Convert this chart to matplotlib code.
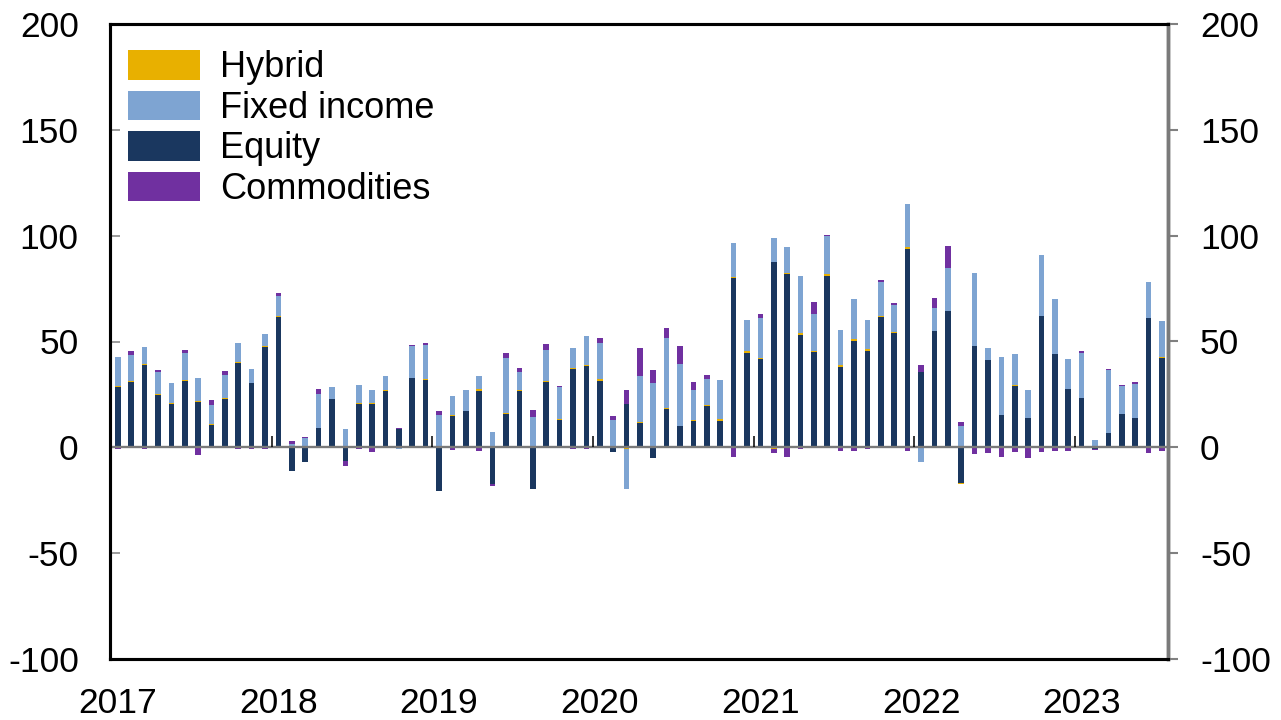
import numpy as np
import pandas as pd
import matplotlib
matplotlib.use("Agg")
import matplotlib.pyplot as plt

plt.rcParams["font.family"] = ["Liberation Sans", "DejaVu Sans"]

# Monthly net flows, Jan 2017 - Jul 2023
months = pd.date_range("2017-01-01", "2023-07-01", freq="MS")

equity = [
    28.5, 30.8, 39.0, 24.8, 20.5, 31.4, 21.5, 10.6, 22.9, 39.9, 30.3, 47.5,
    61.7, -11.2, -6.9, 9.0, 22.6, -6.5, 20.7, 20.5, 26.7, 8.5, 32.6, 31.9,
    -20.7, 14.8, 17.0, 26.8, -17.2, 15.8, 26.5, -19.7, 30.9, 12.9, 37.1, 38.6,
    31.2, -2.0, 20.3, 11.5, -5.2, 18.1, 9.9, 12.3, 19.6, 12.5, 79.8, 44.8,
    41.8, 87.4, 81.7, 53.0, 45.1, 80.8, 38.0, 50.3, 45.6, 61.7, 54.1, 93.7,
    35.6, 55.0, 64.5, -17.0, 47.9, 41.3, 15.3, 29.0, 13.7, 62.0, 44.3, 27.4,
    23.2, -0.6, 6.8, 15.6, 13.7, 60.9, 42.3,
]
hybrid = [
    0.4, 0.4, 0.2, 0.4, 0.3, 0.4, 0.4, 0.3, 0.2, 0.6, 0.2, 0.3,
    0.3, 0.0, 0.0, 0.3, 0.3, 0.0, 0.4, 0.4, 0.2, 0.0, 0.2, 0.4,
    0.0, 0.3, 0.3, 0.8, 0.0, 0.3, 0.6, 0.8, 0.6, 0.6, 0.3, 0.3,
    1.2, 0.5, -0.8, 0.3, 0.0, 0.3, 0.3, 0.5, 0.3, 0.8, 0.8, 0.6,
    0.2, -0.9, 0.6, 0.9, 0.6, 0.9, 0.9, 1.1, 0.8, 0.3, 0.3, 0.8,
    0.0, -0.4, -0.4, -0.5, 0.0, -0.5, 0.0, 0.5, -0.5, 0.0, -0.4, 0.0,
    0.3, 0.0, 0.0, 0.3, 0.0, 0.3, 0.6,
]
fixed_income = [
    13.8, 12.2, 8.4, 10.3, 9.8, 12.7, 10.9, 9.1, 11.3, 9.0, 6.6, 5.7,
    9.5, 1.7, 4.6, 16.1, 5.8, 8.8, 8.4, 6.4, 6.7, -0.9, 15.1, 16.1,
    15.3, 9.2, 9.7, 6.2, 7.1, 25.9, 8.7, 13.4, 14.4, 15.0, 9.3, 13.9,
    17.0, 12.6, -18.9, 22.1, 30.3, 33.2, 29.4, 14.3, 12.3, 18.7, 15.9, 14.7,
    19.2, 11.3, 12.2, 27.0, 17.2, 18.3, 16.5, 18.6, 13.7, 16.2, 13.0, 20.6,
    -6.8, 10.9, 20.2, 10.3, 34.3, 5.5, 27.2, 14.5, 13.4, 28.9, 25.6, 14.2,
    21.3, 3.5, 29.8, 13.1, 16.3, 16.9, 16.7,
]
commodities = [
    -0.6, 1.9, -0.6, 0.8, -0.4, 1.4, -3.5, 2.2, 1.6, -0.9, -0.6, -0.6,
    1.5, 1.1, 0.4, 2.2, 0.0, -2.5, -0.6, -2.2, 0.0, 0.5, 0.3, 1.1,
    1.9, -1.4, 0.0, -1.7, -1.3, 2.8, 1.9, 3.6, 3.1, 0.3, -0.9, -0.6,
    2.3, 1.9, 7.0, 12.8, 6.3, 4.6, 8.5, 3.7, 1.9, -0.5, -4.4, -0.4,
    1.7, -1.9, -4.4, -0.9, 5.7, 0.5, -1.7, -1.6, -0.9, 1.0, 0.9, -1.9,
    3.5, 4.6, 10.6, 1.8, -3.0, -2.0, -4.4, -2.4, -4.5, -2.4, -1.2, -1.9,
    0.9, -0.5, 0.3, 0.3, 1.1, -2.5, -1.9,
]

series_names = ["Equity", "Hybrid", "Fixed income", "Commodities"]
series_values = [equity, hybrid, fixed_income, commodities]
series_colors = ["#1A375F", "#E8B000", "#7EA4D2", "#7030A0"]
legend_order = ["Hybrid", "Fixed income", "Equity", "Commodities"]

year_labels = ["2017", "2018", "2019", "2020", "2021", "2022", "2023"]
y_ticks = [-100, -50, 0, 50, 100, 150, 200]

x = np.arange(len(months))
year_pos = x[months.month == 1]

fig = plt.figure(figsize=(12.81, 7.2), dpi=100)
ax = fig.add_axes([110 / 1281, 61 / 720, (1168 - 110) / 1281, (659 - 24) / 720])

# Stack positives upward and negatives downward, in the same series order
pos_base = np.zeros(len(x))
neg_base = np.zeros(len(x))
handles = {}
for name, vals, col in zip(series_names, series_values, series_colors):
    v = np.asarray(vals, dtype=float)
    p = np.clip(v, 0, None)
    n = np.clip(v, None, 0)
    bc = ax.bar(x, p, bottom=pos_base, width=0.42, color=col, linewidth=0, zorder=2)
    ax.bar(x, n, bottom=neg_base, width=0.42, color=col, linewidth=0, zorder=2)
    pos_base += p
    neg_base += n
    handles[name] = bc

ax.axhline(0, color="#7a7a7a", lw=1.7, zorder=3)
# small year separators on the zero line
ax.vlines(year_pos[1:] - 0.5, 0, 5.5, color="black", lw=1.1, zorder=4)

ax.set_xlim(-0.58, 78.45)
ax.set_ylim(-100, 200)
ax.set_xticks(year_pos)
ax.set_xticklabels(year_labels)
ax.tick_params(axis="x", length=0, pad=20, labelsize=25.5)

ax.set_yticks(y_ticks)
ax.set_yticklabels([str(t) for t in y_ticks])
ax.tick_params(axis="y", which="major", direction="in", length=7.5, width=1.1,
               color="#808080", labelsize=25.5, pad=22.5)

ax2 = ax.twinx()
ax2.set_ylim(-100, 200)
ax2.set_yticks(y_ticks)
ax2.set_yticklabels([str(t) for t in y_ticks])
ax2.tick_params(axis="y", direction="out", length=7.5, width=1.5,
                color="#808080", labelsize=25.5, pad=15.5)

for a in (ax, ax2):
    for side in ("left", "top", "bottom"):
        a.spines[side].set_color("black")
        a.spines[side].set_linewidth(2.2)
    a.spines["right"].set_color("#7a7a7a")
    a.spines["right"].set_linewidth(2.5)

leg = ax.legend([handles[n] for n in legend_order], legend_order,
                loc="upper left", bbox_to_anchor=(128 / 1281, 1 - 50 / 720),
                bbox_transform=fig.transFigure, frameon=False, fontsize=26,
                handlelength=2.0, handleheight=0.9, handletextpad=0.55,
                labelspacing=0.14, borderpad=0, borderaxespad=0)
leg.set_zorder(5)

fig.savefig("out.png", dpi=100)
